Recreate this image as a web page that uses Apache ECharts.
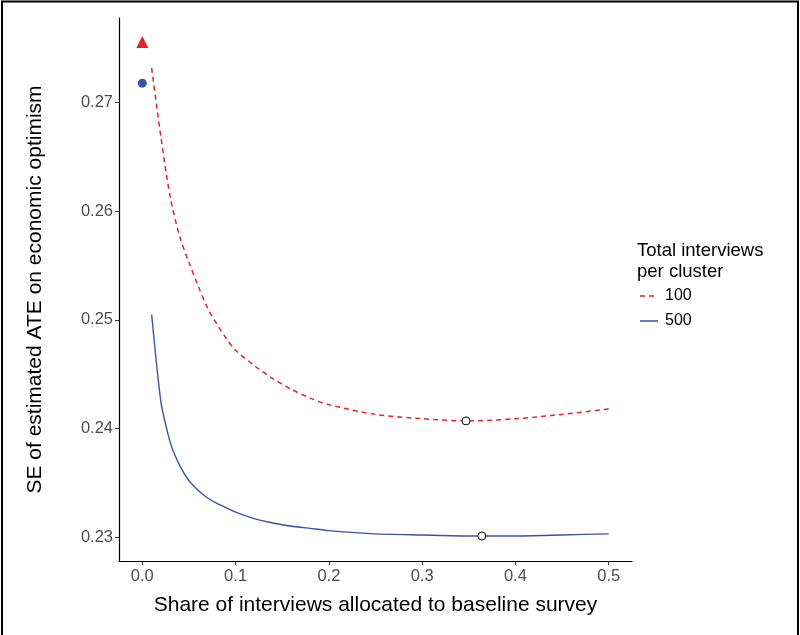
<!DOCTYPE html>
<html>
<head>
<meta charset="utf-8">
<script src="https://cdn.jsdelivr.net/npm/echarts@6/dist/echarts.min.js"></script>
<style>
  html, body { margin: 0; padding: 0; background: #fff; }
  #chart { width: 800px; height: 635px; }
</style>
</head>
<body>
<div id="chart"></div>
<script>
// share of interviews at baseline
var shares = [0.01, 0.02, 0.03, 0.04, 0.05, 0.06, 0.07, 0.08, 0.09, 0.10, 0.12, 0.14, 0.16, 0.18, 0.20, 0.25, 0.30, 0.35, 0.40, 0.45, 0.50]
// SE, 100 interviews per cluster
var se100 = [0.2732, 0.2668, 0.2613, 0.2577, 0.2553, 0.2531, 0.2511, 0.2496, 0.2483, 0.2472, 0.2458, 0.2446, 0.2436, 0.2428, 0.2422, 0.2413, 0.2409, 0.2407, 0.2409, 0.2413, 0.2418]
// SE, 500 interviews per cluster
var se500 = [0.2505, 0.2424, 0.2387, 0.2366, 0.2352, 0.2343, 0.2336, 0.2331, 0.2327, 0.2323, 0.2317, 0.2313, 0.2310, 0.2308, 0.2306, 0.2303, 0.2302, 0.2301, 0.2301, 0.2302, 0.2303]
// no-baseline points and the minima
var zero100 = [0, 0.2756]
var zero500 = [0, 0.2718]
var min100 = [0.347, 0.2407]
var min500 = [0.364, 0.2301]
var xTicks = [0, 0.1, 0.2, 0.3, 0.4, 0.5]
var yTicks = [0.23, 0.24, 0.25, 0.26, 0.27]

var red = '#e8222b'
var blue = '#3a52a4'
var font = 'Liberation Sans, Arial, sans-serif'

function pairs(xs, ys) {
  return xs.map(function (x, i) { return [x, ys[i]] })
}

var chart = echarts.init(document.getElementById('chart'))
chart.setOption({
  animation: false,
  textStyle: { fontFamily: font },
  grid: { left: 119, top: 18, right: 168, bottom: 74 },
  graphic: [
    { type: 'rect', shape: { x: 2, y: 1.5, width: 796, height: 700 }, style: { fill: 'none', stroke: '#000', lineWidth: 2 } },
    // legend, drawn by hand so the keys are plain line samples
    { type: 'text', left: 637, top: 240, style: { text: 'Total interviews\nper cluster', font: '18.5px ' + font, fill: '#000', lineHeight: 21 } },
    { type: 'line', shape: { x1: 640, y1: 296, x2: 658, y2: 296 }, style: { stroke: red, lineWidth: 1.5, lineDash: [5, 4] } },
    { type: 'text', left: 665, top: 288, style: { text: '100', font: '16px ' + font, fill: '#000' } },
    { type: 'line', shape: { x1: 640, y1: 321, x2: 658, y2: 321 }, style: { stroke: blue, lineWidth: 1.5 } },
    { type: 'text', left: 665, top: 313, style: { text: '500', font: '16px ' + font, fill: '#000' } }
  ],
  xAxis: {
    type: 'value', min: -0.025, max: 0.525,
    name: 'Share of interviews allocated to baseline survey',
    nameLocation: 'middle', nameGap: 34,
    nameTextStyle: { fontSize: 21, color: '#000' },
    splitLine: { show: false },
    axisLine: { onZero: false, lineStyle: { color: '#000', width: 1.2 } },
    axisTick: { customValues: xTicks, length: 4, lineStyle: { color: '#333' } },
    axisLabel: { customValues: xTicks, fontSize: 16.5, color: '#4d4d4d', margin: 7, formatter: function (v) { return v.toFixed(1) } }
  },
  yAxis: {
    type: 'value', min: 0.2278, max: 0.2778,
    name: 'SE of estimated ATE on economic optimism',
    nameLocation: 'middle', nameGap: 73,
    nameTextStyle: { fontSize: 21, color: '#000' },
    splitLine: { show: false },
    axisLine: { show: true, onZero: false, lineStyle: { color: '#000', width: 1.2 } },
    axisTick: { show: true, customValues: yTicks, length: 4, lineStyle: { color: '#333' } },
    axisLabel: { customValues: yTicks, fontSize: 16.5, color: '#4d4d4d', margin: 6, formatter: function (v) { return v.toFixed(2) } }
  },
  series: [
    {
      name: '100', type: 'line', smooth: 0.3, symbol: 'none', color: red,
      lineStyle: { color: red, width: 1.5, type: [5, 4] },
      data: pairs(shares, se100)
    },
    {
      name: '500', type: 'line', smooth: 0.2, symbol: 'none', color: blue,
      lineStyle: { color: blue, width: 1.4 },
      data: pairs(shares, se500)
    },
    {
      type: 'scatter', symbol: 'triangle', symbolSize: 12,
      itemStyle: { color: red, opacity: 1 }, data: [zero100]
    },
    {
      type: 'scatter', symbol: 'circle', symbolSize: 9,
      itemStyle: { color: blue, opacity: 1 }, data: [zero500]
    },
    {
      type: 'scatter', symbol: 'circle', symbolSize: 8, z: 5,
      itemStyle: { color: '#fff', borderColor: '#000', borderWidth: 1, opacity: 1 },
      data: [min100, min500]
    }
  ]
})
</script>
</body>
</html>
